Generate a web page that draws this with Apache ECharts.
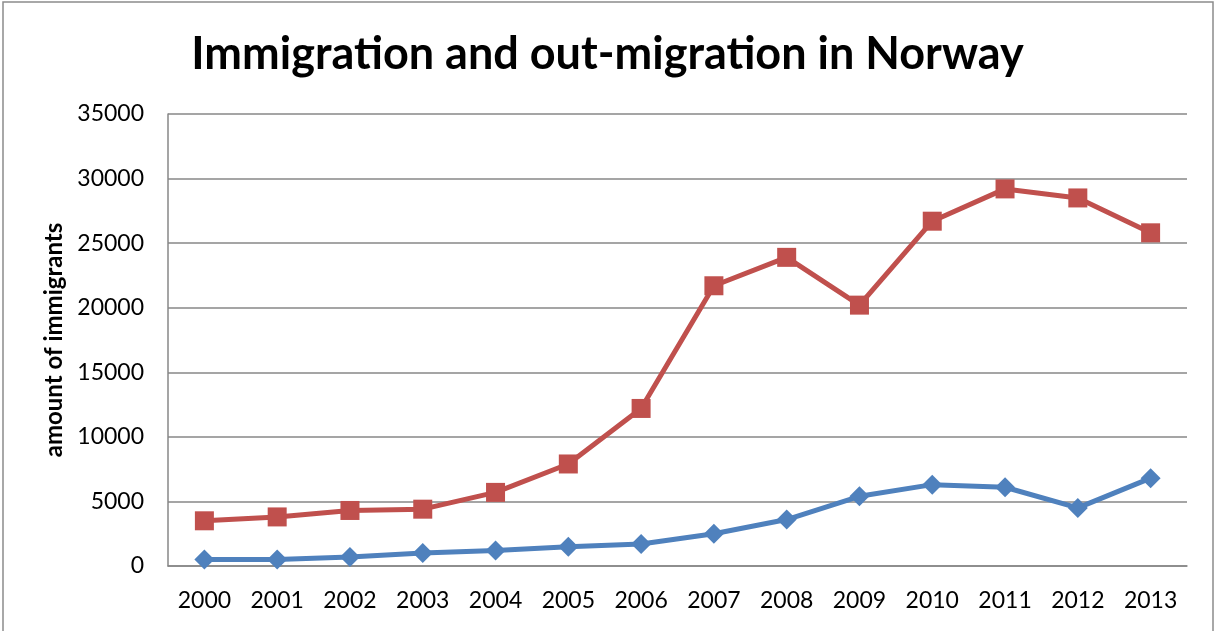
<!DOCTYPE html>
<html>
<head>
<meta charset="utf-8">
<script src="https://cdn.jsdelivr.net/npm/echarts@6/dist/echarts.min.js"></script>
<style>
html,body{margin:0;padding:0;background:#fff;}
#chart{width:1215px;height:631px;}
</style>
</head>
<body>
<div id="chart"></div>
<script>
const years = ['2000','2001','2002','2003','2004','2005','2006','2007','2008','2009','2010','2011','2012','2013'];
const outMigration = [500, 500, 700, 1000, 1200, 1500, 1700, 2500, 3600, 5400, 6300, 6100, 4500, 6800];
const immigration = [3500, 3800, 4300, 4400, 5700, 7900, 12200, 21700, 23900, 20200, 26700, 29200, 28500, 25800];
const yTicks = {min: 0, max: 35000, interval: 5000};

const FONT = 'Lato';
const chart = echarts.init(document.getElementById('chart'), null, {renderer: 'canvas'});
chart.setOption({
  animation: false,
  backgroundColor: '#fff',
  graphic: [{
    type: 'rect',
    shape: {x: 3, y: 2, width: 1210, height: 640},
    style: {fill: 'none', stroke: '#8c8c8c', lineWidth: 1.5},
    silent: true
  }],
  title: {
    text: 'Immigration and out-migration in Norway',
    left: 'center',
    top: 27,
    textStyle: {fontFamily: FONT, fontWeight: 'bold', fontSize: 45, color: '#000'}
  },
  grid: {left: 168, right: 28, top: 114, bottom: 65},
  xAxis: {
    type: 'category',
    data: years,
    boundaryGap: true,
    axisLine: {lineStyle: {color: '#878787', width: 1.5}},
    axisTick: {show: false},
    axisLabel: {fontFamily: FONT, fontSize: 23, color: '#000', margin: 23}
  },
  yAxis: {
    type: 'value',
    min: yTicks.min, max: yTicks.max, interval: yTicks.interval,
    name: 'amount of immigrants',
    nameLocation: 'middle',
    nameGap: 100,
    nameTextStyle: {fontFamily: FONT, fontWeight: 'bold', fontSize: 24, color: '#000'},
    axisLine: {show: true, lineStyle: {color: '#878787', width: 1.5}},
    axisTick: {show: false},
    axisLabel: {fontFamily: FONT, fontSize: 23, color: '#000', margin: 24, formatter: v => String(v)},
    splitLine: {lineStyle: {color: '#878787', width: 1.5}}
  },
  series: [
    {
      name: 'Out-migration',
      type: 'line',
      data: outMigration,
      symbol: 'diamond',
      symbolSize: 20,
      lineStyle: {color: '#4F81BD', width: 5},
      itemStyle: {color: '#4F81BD'}
    },
    {
      name: 'Immigration',
      type: 'line',
      data: immigration,
      symbol: 'rect',
      symbolSize: 19,
      lineStyle: {color: '#C0504D', width: 5},
      itemStyle: {color: '#C0504D'}
    }
  ]
});
</script>
</body>
</html>
